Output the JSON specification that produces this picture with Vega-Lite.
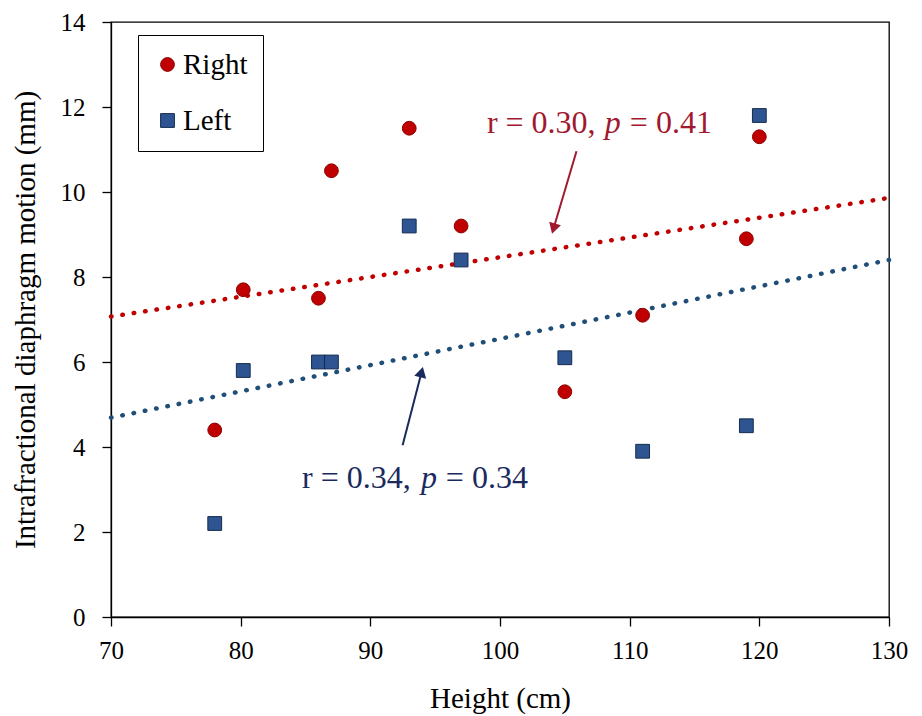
{
  "$schema": "https://vega.github.io/schema/vega-lite/v6.json",
  "width": 778,
  "height": 595,
  "autosize": "none",
  "padding": {"left": 111, "top": 22, "right": 33, "bottom": 99},
  "background": "white",
  "config": {
    "view": {"stroke": "black", "strokeWidth": 1.3},
    "axis": {
      "grid": false,
      "domainColor": "black",
      "domainWidth": 1.3,
      "tickColor": "black",
      "tickWidth": 1.3,
      "tickSize": 9,
      "labelFlush": false,
      "labelOverlap": false,
      "labelFont": "Liberation Serif",
      "labelFontSize": 25,
      "labelColor": "black",
      "titleFont": "Liberation Serif",
      "titleFontSize": 29,
      "titleFontWeight": "normal",
      "titleColor": "black"
    },
    "legend": {
      "orient": "none",
      "legendX": 27,
      "legendY": 13,
      "strokeColor": "black",
      "fillColor": "white",
      "padding": 15,
      "labelFont": "Liberation Serif",
      "labelFontSize": 29,
      "labelColor": "black",
      "labelOffset": 1,
      "symbolSize": 190,
      "rowPadding": 26,
      "symbolStrokeWidth": 1
    }
  },
  "datasets": {
    "points": [
      {"side": "Right", "height": 78, "motion": 4.4},
      {"side": "Right", "height": 80.2, "motion": 7.7},
      {"side": "Right", "height": 86, "motion": 7.5},
      {"side": "Right", "height": 87, "motion": 10.5},
      {"side": "Right", "height": 93, "motion": 11.5},
      {"side": "Right", "height": 97, "motion": 9.2},
      {"side": "Right", "height": 105, "motion": 5.3},
      {"side": "Right", "height": 111, "motion": 7.1},
      {"side": "Right", "height": 119, "motion": 8.9},
      {"side": "Right", "height": 120, "motion": 11.3},
      {"side": "Left", "height": 78, "motion": 2.2},
      {"side": "Left", "height": 80.2, "motion": 5.8},
      {"side": "Left", "height": 86, "motion": 6.0},
      {"side": "Left", "height": 87, "motion": 6.0},
      {"side": "Left", "height": 93, "motion": 9.2},
      {"side": "Left", "height": 97, "motion": 8.4},
      {"side": "Left", "height": 105, "motion": 6.1},
      {"side": "Left", "height": 111, "motion": 3.9},
      {"side": "Left", "height": 119, "motion": 4.5},
      {"side": "Left", "height": 120, "motion": 11.8}
    ],
    "trend": [
      {"side": "Right", "height": 70, "motion": 7.07},
      {"side": "Right", "height": 130, "motion": 9.86},
      {"side": "Left", "height": 70, "motion": 4.69},
      {"side": "Left", "height": 130, "motion": 8.40}
    ],
    "arrows": [
      {"side": "Right", "x": 105.9, "y": 10.96, "x2": 104.13, "y2": 9.14},
      {"side": "Left", "x": 92.49, "y": 4.04, "x2": 93.95, "y2": 5.76}
    ],
    "notes": [
      {"side": "Right", "part": "a", "text": "r = 0.30,", "x": 98.99, "y": 11.38},
      {"side": "Right", "part": "p", "text": "p", "x": 108.7, "y": 11.38},
      {"side": "Right", "part": "b", "text": "= 0.41", "x": 116.34, "y": 11.38},
      {"side": "Left", "part": "a", "text": "r = 0.34,", "x": 84.73, "y": 3.03},
      {"side": "Left", "part": "p", "text": "p", "x": 94.52, "y": 3.03},
      {"side": "Left", "part": "b", "text": "= 0.34", "x": 102.15, "y": 3.03}
    ]
  },
  "layer": [
    {
      "data": {"name": "trend"},
      "transform": [{"filter": "datum.side === 'Right'"}],
      "mark": {"type": "line", "color": "#C00000", "strokeWidth": 4.5, "strokeDash": [0.5, 11], "strokeCap": "round"},
      "encoding": {
        "x": {"field": "height", "type": "quantitative", "scale": {"domain": [70, 130], "nice": false, "zero": false}, "axis": {"values": [70, 80, 90, 100, 110, 120, 130], "title": "Height (cm)", "labelPadding": 12, "titlePadding": 21}},
        "y": {"field": "motion", "type": "quantitative", "scale": {"domain": [0, 14], "nice": false}, "axis": {"values": [0, 2, 4, 6, 8, 10, 12, 14], "title": "Intrafractional diaphragm motion (mm)", "labelPadding": 17, "titlePadding": 20}}
      }
    },
    {
      "data": {"name": "trend"},
      "transform": [{"filter": "datum.side === 'Left'"}],
      "mark": {"type": "line", "color": "#1F4E79", "strokeWidth": 4.5, "strokeDash": [0.5, 11], "strokeCap": "round"},
      "encoding": {
        "x": {"field": "height", "type": "quantitative"},
        "y": {"field": "motion", "type": "quantitative"}
      }
    },
    {
      "data": {"name": "points"},
      "mark": {"type": "point", "filled": true, "opacity": 1, "strokeWidth": 1},
      "encoding": {
        "x": {"field": "height", "type": "quantitative"},
        "y": {"field": "motion", "type": "quantitative"},
        "color": {"field": "side", "type": "nominal", "scale": {"domain": ["Right", "Left"], "range": ["#C00000", "#2E5491"]}, "legend": {"title": null}},
        "stroke": {"field": "side", "type": "nominal", "scale": {"domain": ["Right", "Left"], "range": ["#8B0000", "#152B4F"]}, "legend": {"title": null}},
        "shape": {"field": "side", "type": "nominal", "scale": {"domain": ["Right", "Left"], "range": ["circle", "square"]}, "legend": {"title": null}},
        "size": {"value": 190}
      }
    },
    {
      "data": {"name": "arrows"},
      "transform": [{"filter": "datum.side === 'Right'"}],
      "mark": {"type": "rule", "color": "#A0192E", "strokeWidth": 2},
      "encoding": {
        "x": {"field": "x", "type": "quantitative"},
        "y": {"field": "y", "type": "quantitative"},
        "x2": {"field": "x2"},
        "y2": {"field": "y2"}
      }
    },
    {
      "data": {"name": "arrows"},
      "transform": [{"filter": "datum.side === 'Right'"}],
      "mark": {"type": "point", "shape": "triangle-down", "filled": true, "color": "#A0192E", "opacity": 1, "size": 150, "angle": 16.6},
      "encoding": {
        "x": {"field": "x2", "type": "quantitative"},
        "y": {"field": "y2", "type": "quantitative"}
      }
    },
    {
      "data": {"name": "arrows"},
      "transform": [{"filter": "datum.side === 'Left'"}],
      "mark": {"type": "rule", "color": "#1B2A5E", "strokeWidth": 2},
      "encoding": {
        "x": {"field": "x", "type": "quantitative"},
        "y": {"field": "y", "type": "quantitative"},
        "x2": {"field": "x2"},
        "y2": {"field": "y2"}
      }
    },
    {
      "data": {"name": "arrows"},
      "transform": [{"filter": "datum.side === 'Left'"}],
      "mark": {"type": "point", "shape": "triangle-up", "filled": true, "color": "#1B2A5E", "opacity": 1, "size": 150, "angle": 14.4},
      "encoding": {
        "x": {"field": "x2", "type": "quantitative"},
        "y": {"field": "y2", "type": "quantitative"}
      }
    },
    {
      "data": {"name": "notes"},
      "transform": [{"filter": "datum.side === 'Right' && datum.part === 'a'"}],
      "mark": {"type": "text", "align": "left", "baseline": "alphabetic", "font": "Liberation Serif", "fontSize": 32, "color": "#A0192E"},
      "encoding": {"x": {"field": "x", "type": "quantitative"}, "y": {"field": "y", "type": "quantitative"}, "text": {"field": "text"}}
    },
    {
      "data": {"name": "notes"},
      "transform": [{"filter": "datum.side === 'Right' && datum.part === 'p'"}],
      "mark": {"type": "text", "align": "center", "baseline": "alphabetic", "font": "Liberation Serif", "fontStyle": "italic", "fontSize": 32, "color": "#A0192E"},
      "encoding": {"x": {"field": "x", "type": "quantitative"}, "y": {"field": "y", "type": "quantitative"}, "text": {"field": "text"}}
    },
    {
      "data": {"name": "notes"},
      "transform": [{"filter": "datum.side === 'Right' && datum.part === 'b'"}],
      "mark": {"type": "text", "align": "right", "baseline": "alphabetic", "font": "Liberation Serif", "fontSize": 32, "color": "#A0192E"},
      "encoding": {"x": {"field": "x", "type": "quantitative"}, "y": {"field": "y", "type": "quantitative"}, "text": {"field": "text"}}
    },
    {
      "data": {"name": "notes"},
      "transform": [{"filter": "datum.side === 'Left' && datum.part === 'a'"}],
      "mark": {"type": "text", "align": "left", "baseline": "alphabetic", "font": "Liberation Serif", "fontSize": 32, "color": "#1B2A5E"},
      "encoding": {"x": {"field": "x", "type": "quantitative"}, "y": {"field": "y", "type": "quantitative"}, "text": {"field": "text"}}
    },
    {
      "data": {"name": "notes"},
      "transform": [{"filter": "datum.side === 'Left' && datum.part === 'p'"}],
      "mark": {"type": "text", "align": "center", "baseline": "alphabetic", "font": "Liberation Serif", "fontStyle": "italic", "fontSize": 32, "color": "#1B2A5E"},
      "encoding": {"x": {"field": "x", "type": "quantitative"}, "y": {"field": "y", "type": "quantitative"}, "text": {"field": "text"}}
    },
    {
      "data": {"name": "notes"},
      "transform": [{"filter": "datum.side === 'Left' && datum.part === 'b'"}],
      "mark": {"type": "text", "align": "right", "baseline": "alphabetic", "font": "Liberation Serif", "fontSize": 32, "color": "#1B2A5E"},
      "encoding": {"x": {"field": "x", "type": "quantitative"}, "y": {"field": "y", "type": "quantitative"}, "text": {"field": "text"}}
    }
  ]
}
